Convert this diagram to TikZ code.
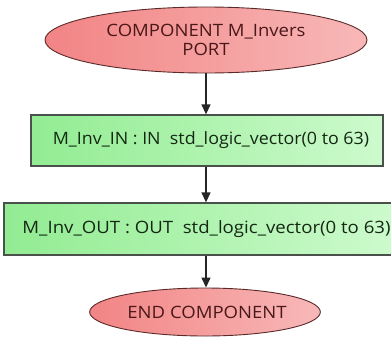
\documentclass[tikz,border=0pt]{standalone}
\usepackage{fontspec}
\setmainfont{Open Sans}
\usetikzlibrary{shapes.geometric,arrows.meta}
\definecolor{elL}{HTML}{F28484}
\definecolor{elR}{HTML}{F8B8B8}
\definecolor{elD}{HTML}{5A2A2A}
\definecolor{elT}{HTML}{4A1818}
\definecolor{bxL}{HTML}{92EC92}
\definecolor{bxR}{HTML}{CDFACD}
\definecolor{bxD}{HTML}{4A504A}
\definecolor{bxT}{HTML}{142814}
\tikzset{
  term/.style={ellipse, draw=elD, line width=0.9pt, left color=elL, right color=elR, inner sep=0pt, text=elT, align=center, font=\fontsize{17}{19}\selectfont},
  portbox/.style={rectangle, draw=bxD, line width=1.3pt, left color=bxL, right color=bxR, inner sep=0pt, text=bxT, font=\fontsize{17}{19}\selectfont},
  flow/.style={line width=1.3pt, draw=black!85, -{Triangle[length=10pt,width=9pt]}}
}
\begin{document}
\begin{tikzpicture}[x=1pt,y=1pt]
\useasboundingbox (0,0) rectangle (391,-338);
\node[term, minimum width=322pt, minimum height=66pt] (start) at (206,-40) {\scalebox{1.09}[1]{COMPONENT M\_Invers}\\\scalebox{1.09}[1]{PORT}};
\node[portbox, minimum width=352pt, minimum height=51pt] (inp) at (207,-140.5) {\hspace*{8pt}\scalebox{1.05}[1]{M\_Inv\_IN : IN\ \ std\_logic\_vector(0 to 63)}};
\node[portbox, minimum width=392pt, minimum height=52pt] (outp) at (200,-229) {\hspace*{13pt}\scalebox{1.095}[1]{M\_Inv\_OUT : OUT\ \ std\_logic\_vector(0 to 63)}};
\node[term, minimum width=230pt, minimum height=48pt] (stop) at (205,-312) {\hspace*{4pt}\scalebox{1.09}[1]{END COMPONENT}};
\draw[flow] (start.south) -- (start.south |- inp.north);
\draw[flow] (start.south |- inp.south) -- (start.south |- outp.north);
\draw[flow] (start.south |- outp.south) -- (start.south |- stop.north);
\end{tikzpicture}
\end{document}
